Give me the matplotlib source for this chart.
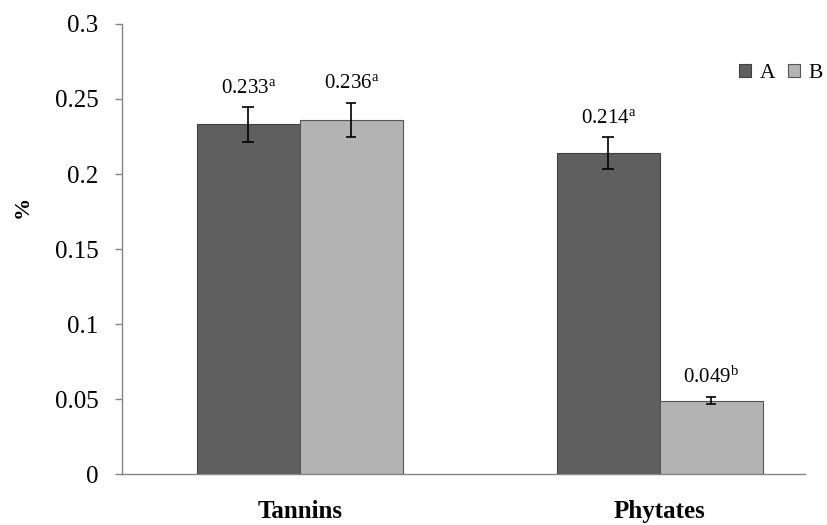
import matplotlib
matplotlib.use("Agg")
import matplotlib.pyplot as plt
import numpy as np

categories = ["Tannins", "Phytates"]
series_names = ["A", "B"]
values_A = [0.233, 0.214]
values_B = [0.236, 0.049]
err_A = [0.0115, 0.0105]
err_B = [0.0115, 0.0022]
letters_A = ["a", "a"]
letters_B = ["a", "b"]
yticks = [0, 0.05, 0.1, 0.15, 0.2, 0.25, 0.3]
ytick_labels = ["0", "0.05", "0.1", "0.15", "0.2", "0.25", "0.3"]

plt.rcParams['font.family'] = ['Liberation Serif', 'DejaVu Serif']
plt.rcParams['mathtext.fontset'] = 'custom'
plt.rcParams['mathtext.rm'] = 'Liberation Serif'
plt.rcParams['mathtext.it'] = 'Liberation Serif:italic'
plt.rcParams['mathtext.bf'] = 'Liberation Serif:bold'

fig = plt.figure(figsize=(8.27, 5.25), dpi=100)
ax = fig.add_axes([0.1475, 0.0971, 0.9734 - 0.1475, 0.9543 - 0.0971])

x = np.arange(len(categories))
w = 0.286
colA = "#5f5f5f"
colB = "#b3b3b3"

ax.bar(x - w / 2, values_A, w, color=colA, edgecolor="#404040", linewidth=0.8, label=series_names[0],
       yerr=err_A, error_kw=dict(ecolor="black", elinewidth=1.2, capsize=4, capthick=1.2))
ax.bar(x + w / 2, values_B, w, color=colB, edgecolor="#555555", linewidth=0.8, label=series_names[1],
       yerr=err_B, error_kw=dict(ecolor="black", elinewidth=1.2, capsize=3.3, capthick=1.2))

for xi, v, e, l in zip(x - w / 2, values_A, err_A, letters_A):
    ax.annotate(f"{v:.3f}$^{{\\mathrm{{{l}}}}}$", (xi, v + e), xytext=(0, 7), textcoords="offset points",
                ha="center", va="bottom", fontsize=15)
for xi, v, e, l in zip(x + w / 2, values_B, err_B, letters_B):
    ax.annotate(f"{v:.3f}$^{{\\mathrm{{{l}}}}}$", (xi, v + e), xytext=(0, 7), textcoords="offset points",
                ha="center", va="bottom", fontsize=15)

ax.set_xlim(-0.494, 1.403)
ax.set_ylim(0, 0.3)
ax.set_yticks(yticks)
ax.set_yticklabels(ytick_labels, fontsize=18)
ax.set_xticks(x)
ax.set_xticklabels(categories, fontsize=18, fontweight="bold")
ax.tick_params(axis='x', length=0, pad=19)
ax.tick_params(axis='y', length=5, color="#868686", width=1, pad=12)

for s in ["top", "right"]:
    ax.spines[s].set_visible(False)
for s in ["left", "bottom"]:
    ax.spines[s].set_color("#868686")
    ax.spines[s].set_linewidth(1)

ax.set_ylabel("%", fontsize=16, fontweight="bold")
ax.yaxis.set_label_coords(-0.131, 0.593)

leg = ax.legend(loc="upper right", bbox_to_anchor=(1.045, 0.94), ncol=2, frameon=False, fontsize=15.5,
                handlelength=0.55, handleheight=0.55, handletextpad=0.4, columnspacing=0.6,
                borderaxespad=0.2)

fig.savefig("out.png", dpi=100)
